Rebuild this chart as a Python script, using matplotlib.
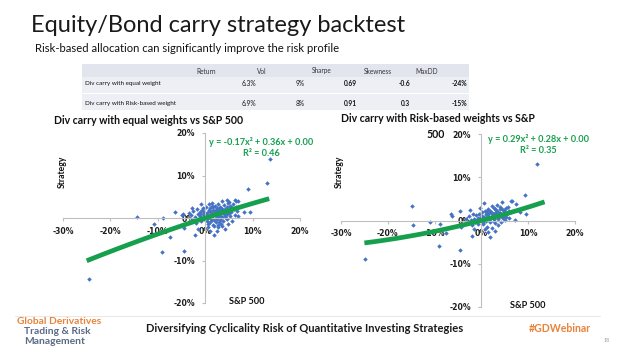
import matplotlib
matplotlib.use('Agg')
import matplotlib.pyplot as plt
from matplotlib.patches import Rectangle
from matplotlib.lines import Line2D
import numpy as np

plt.rcParams['font.family'] = ['Lato', 'DejaVu Sans']
plt.rcParams['axes.unicode_minus'] = False

#--table values
tab_cols = ['Return', 'Vol', 'Sharpe', 'Skewness', 'MaxDD']
tab_rows = ['Div carry with equal weight', 'Div carry with Risk-based weight']
tab_vals = [['6.3%', '9%', '0.69', '-0.6', '-24%'],
            ['6.9%', '8%', '0.91', '0.3', '-15%']]

#--axis ticks of both charts
xticks = [-0.3, -0.2, -0.1, 0.0, 0.1, 0.2]
yticks = [-0.2, -0.1, 0.0, 0.1, 0.2]

#--scatter, left chart (S&P 500 monthly return vs strategy, in %)
xL = [-24.6, -14.4, -10.9, -8.8, -9.1, -7.5, -6.3, -4.6, -4.5, -4.4, -2.2, 1.9,
      7.0, 8.1, 9.4, 9.1, 13.1, 13.6,
      -3.0, -2.8, -2.5, -2.2, -2.0, -1.8, -1.6, -1.4, -1.2, -1.0, -0.8, -0.6,
      -0.5, -0.3, -0.2, 0.0, 0.2, 0.3, 0.4, 0.6, 0.7, 0.8, 0.9, 1.0, 1.1, 1.2,
      1.3, 1.4, 1.5, 1.6, 1.7, 1.8, 1.9, 2.0, 2.1, 2.2, 2.3, 2.4, 2.5, 2.6,
      2.7, 2.8, 2.9, 3.0, 3.1, 3.2, 3.3, 3.4, 3.5, 3.6, 3.7, 3.8, 3.9, 4.0,
      4.1, 4.2, 4.3, 4.4, 4.5, 4.6, 4.7, 4.8, 4.9, 5.0, 5.2, 5.3, 5.5, 5.6,
      5.8, 6.0, 6.2, 6.4, 6.6, 6.8, -1.5, 0.5, 1.0, 2.5, -4.8, -3.5, -0.9,
      3.6, 5.0, -2.8, 6.2, 7.0,
      0.1, 0.5, 0.9, 1.3, 1.6, 2.0, 2.4, 2.7, 3.1, 3.4, 3.8, 4.2, 4.6, 5.1,
      5.4, 0.6, 1.2, 1.8, 2.3, 2.9, 3.5, 4.0, 4.5, -1.1, -0.4, 1.5, 2.6, 3.3]
yL = [-14.3, 0.3, -1.5, 0.0, -7.9, -4.5, 1.3, 0.9, -7.7, -2.4, -3.9, -3.9,
      0.5, 1.5, 1.5, 6.9, 8.2, 14.0,
      0.8, -0.5, 1.6, 0.2, -1.2, 2.2, 0.9, -0.3, 1.5, 0.4, -0.8, 2.0,
      0.9, -0.2, 1.4, 0.5, 2.6, -0.6, 1.1, 0.2, 3.2, 1.7, -1.1, 0.8, 2.3, -0.2,
      1.3, 3.6, 0.4, -1.6, 2.0, 1.0, -0.5, 2.8, 0.6, 1.6, -1.0, 0.2, 2.3, 1.2,
      -2.1, 3.4, 0.7, 1.8, -0.4, 2.6, 1.1, -1.4, 0.3, 2.1, 1.4, -0.8, 3.0, 0.9,
      2.2, -2.6, 1.7, 0.1, 4.3, 2.7, 1.0, -1.3, 3.5, 2.0, 0.5, 2.9, 1.4, -0.6,
      3.2, 2.2, 0.8, 2.7, 4.1, 1.6, -2.5, -2.2, -3.0, -3.0, 0.6, 1.2, 3.3,
      3.9, 3.8, 2.4, 4.3, 3.9,
      1.0, -0.1, 1.9, 0.7, 2.6, 1.3, -0.3, 1.9, 0.5, 2.4, 1.8, 0.4, 1.5, 1.1,
      2.5, -1.4, -0.6, -1.9, 2.0, -0.9, -1.8, 1.2, -0.2, 0.9, 2.4, 2.9, -1.6, 0.1]

#--scatter, right chart
xR = [-24.9, -14.8, -14.6, -11.0, -8.8, -9.1, -7.5, -6.4, -6.2, -4.6, -4.5,
      -4.4, -2.5, -2.1, 0.6, 1.9, 6.4, 7.1, 8.2, 9.5, 9.3, 11.8,
      -3.2, -2.9, -2.6, -2.3, -2.0, -1.8, -1.5, -1.3, -1.1, -0.9, -0.7, -0.5,
      -0.3, -0.1, 0.1, 0.3, 0.5, 0.7, 0.9, 1.1, 1.2, 1.4, 1.5, 1.7, 1.8, 2.0,
      2.1, 2.3, 2.4, 2.6, 2.7, 2.9, 3.0, 3.2, 3.3, 3.5, 3.6, 3.8, 3.9, 4.1,
      4.2, 4.4, 4.5, 4.7, 4.8, 5.0, 5.2, 5.4, 5.6, 5.8, 6.0, 6.3, 6.6, 7.3,
      -1.6, 0.8, 1.4, 2.8, 3.4, 4.6, -0.4, 2.2, 3.9, 5.1,
      0.2, 0.6, 1.0, 1.6, 1.9, 2.5, 3.1, 3.7, 4.3, 4.9, 1.3, 2.7, 3.5, 0.4,
      -0.8, 1.8, 2.2, 3.0, 4.0, 5.3]
yR = [-8.9, 3.3, -1.1, -0.3, -0.9, -5.9, -2.8, 1.4, 1.1, -6.8, 2.3,
      -1.5, 2.5, -3.6, 4.0, -3.7, 4.4, 0.2, 1.9, 1.4, 5.8, 13.0,
      0.4, -0.6, 1.0, 0.1, -1.0, 1.5, 0.3, -0.4, 1.2, 0.2, -0.9, 1.6,
      0.5, -0.2, 1.9, -0.7, 0.8, 2.2, 0.0, 1.3, -1.4, 2.6, 0.6, 1.7, -0.3,
      2.0, 0.9, -1.8, 1.4, 2.9, 0.3, 1.8, -0.6, 2.4, 1.1, -1.0, 2.0, 0.7,
      3.1, 1.5, -0.3, 2.6, 4.2, 1.0, 2.1, 0.2, 2.8, 1.6, 3.2, 0.6, 2.3, 1.9,
      4.6, 3.8, -2.0, -1.9, -2.6, -2.4, 3.6, 0.5, 2.9, 3.3, 2.7, 1.2,
      1.0, 0.2, 1.6, 0.9, 2.3, 1.1, 1.9, 1.3, 0.8, 2.5, 2.1, -0.1, 0.4, -0.5,
      0.6, 0.0, 1.8, 2.6, 1.8, 0.9]

#--quadratic trendlines (a, b, c) and their x span
fitL = (-0.17, 0.36, 0.00) ; r2L = 0.46
fitR = (0.29, 0.28, 0.00) ; r2R = 0.35
spanL = (-0.25, 0.135)
spanR = (-0.25, 0.135)

blue = '#4472C4'
green = '#16A04E'
grey = '#BFBFBF'

fig = plt.figure(figsize=(6.4, 3.6), dpi=100)
fig.patch.set_facecolor('white')

def px(x, y):
  return x / 640.0, 1 - y / 360.0

def pct(v):
  return '{:.0f}%'.format(round(v * 100) + 0)

#--slide title and subtitle
fig.text(*px(31, 25), 'Equity/Bond carry strategy backtest', fontsize=17,
         fontweight='normal', color='#1A1A1A', va='center', ha='left')
fig.text(*px(35, 48), 'Risk-based allocation can significantly improve the risk profile',
         fontsize=8.1, color='#111111', va='center', ha='left')

#--table
bands = [(64, 77, '#E2E5EE'), (77, 93, '#EDEFF5'), (94, 110, '#EDEFF5')]
for y0, y1, c in bands:
  x0, yb = px(82, y1)
  fig.add_artist(Rectangle((x0, yb), (469 - 82) / 640.0, (y1 - y0) / 360.0,
                           transform=fig.transFigure, facecolor=c, edgecolor='none', zorder=0))
col_head_x = [206, 262, 322, 378, 427]
for name, cx in zip(tab_cols, col_head_x):
  fig.text(*px(cx, 71), name, fontsize=4.7, color='#333333', ha='center', va='center')
val_x = [256, 305, 344, 410, 467]
val_ha = ['right', 'right', 'left', 'right', 'right']
val_bold = [False, False, True, True, True]
for r, (lab, yy) in enumerate(zip(tab_rows, [84, 103])):
  fig.text(*px(85, yy), lab, fontsize=4.5, color='#111111', ha='left', va='center')
  for v, vx, ha, b in zip(tab_vals[r], val_x, val_ha, val_bold):
    fig.text(*px(vx, yy), v, fontsize=4.8, color='#111111', ha=ha, va='center',
             fontweight='bold' if b else 'normal')

#--the two scatter charts
def panel(rect, xs, ys, fit, span, r2, titles, eqpos, ylpos, xlpos):
  ax = fig.add_axes(rect)
  ax.set_xlim(-0.3, 0.2)
  ax.set_ylim(-0.2, 0.2)
  ax.patch.set_alpha(0)
  for s in ['top', 'right']:
    ax.spines[s].set_visible(False)
  ax.spines['left'].set_position(('data', 0))
  ax.spines['bottom'].set_position(('data', 0))
  for s in ['left', 'bottom']:
    ax.spines[s].set_color(grey)
    ax.spines[s].set_linewidth(0.8)
  ax.set_xticks(xticks, labels=[pct(v) for v in xticks])
  ax.set_yticks(yticks, labels=[pct(v) for v in yticks])
  ax.tick_params(length=2.5, width=0.8, color=grey, labelsize=5.6, labelcolor='#1E1E1E',
                 labelfontfamily='DejaVu Sans')
  ax.tick_params(axis='x', pad=3.8)
  ax.tick_params(axis='y', pad=5)
  ax.plot(np.array(xs) / 100, np.array(ys) / 100, linestyle='none', marker='D',
          markersize=2.3, color=blue, markeredgewidth=0, zorder=2)
  a, b, c = fit
  xx = np.linspace(span[0], span[1], 60)
  ax.plot(xx, a * xx**2 + b * xx + c, color=green, linewidth=3.4,
          solid_capstyle='butt', zorder=3)
  for txt, pos in titles:
    fig.text(*px(*pos), txt, fontsize=7.6, fontweight='bold', color='#111111',
             ha='center', va='center')
  eq = 'y = {:.2f}x² + {:.2f}x + {:.2f}\nR² = {:.2f}'.format(a, b, c, r2)
  fig.text(*px(*eqpos), eq, fontsize=6.6, fontweight='bold', color=green,
           ha='center', va='top', linespacing=1.35)
  fig.text(*px(*ylpos), 'Strategy', fontsize=6.2, fontweight='bold', color='#111111',
           rotation=90, ha='center', va='center')
  fig.text(*px(*xlpos), 'S&P 500', fontsize=6.6, fontweight='bold', color='#111111',
           ha='center', va='center')
  return ax

axL = panel([63 / 640, 1 - 303 / 360, 237 / 640, 170 / 360], xL, yL, fitL, spanL, r2L,
            [('Div carry with equal weights vs S&P 500', (149, 121))],
            (261, 137), (62, 172), (247, 302))
axR = panel([341 / 640, 1 - 307 / 360, 234 / 640, 173 / 360], xR, yR, fitR, spanR, r2R,
            [('Div carry with Risk-based weights vs S&P', (438, 119)), ('500', (436, 134))],
            (538, 134), (339, 172), (528, 306))

#--footer
fig.add_artist(Line2D([15 / 640, 600 / 640], [1 - 316 / 360] * 2, transform=fig.transFigure,
                      color='#E4E4E4', linewidth=0.6))
fig.text(*px(17, 321), 'Global Derivatives', fontsize=7.4, fontweight='bold',
         color='#E8833A', ha='left', va='center')
fig.text(*px(24, 331), 'Trading & Risk', fontsize=7.4, fontweight='bold',
         color='#5A6A86', ha='left', va='center')
fig.text(*px(24, 341), 'Management', fontsize=7.4, fontweight='bold',
         color='#5A6A86', ha='left', va='center')
fig.text(*px(305, 329), 'Diversifying Cyclicality Risk of Quantitative Investing Strategies',
         fontsize=8.0, fontweight='bold', color='#1A1A1A', ha='center', va='center')
fig.text(*px(560, 329), '#GDWebinar', fontsize=7.6, fontweight='bold',
         color='#E8833A', ha='center', va='center')
fig.text(*px(607, 340), '18', fontsize=3.8, color='#999999', ha='center', va='center')

#--make tick labels bold once the ticks exist
fig.canvas.draw()
for ax in [axL, axR]:
  for t in ax.xaxis.get_major_ticks() + ax.yaxis.get_major_ticks():
    t.label1.set_fontweight('bold')

fig.savefig('out.png', dpi=100)
